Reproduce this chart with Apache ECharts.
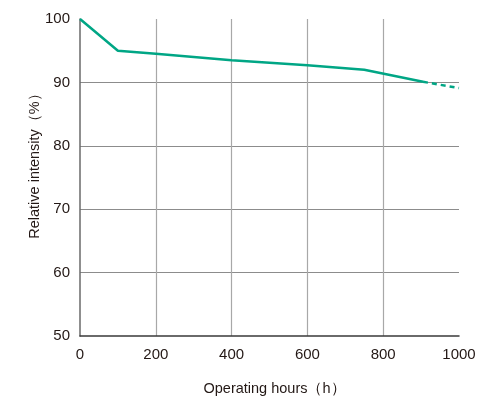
<!DOCTYPE html>
<html>
<head>
<meta charset="utf-8">
<script src="https://cdn.jsdelivr.net/npm/echarts@6/dist/echarts.min.js"></script>
<style>html,body{margin:0;padding:0;background:#fff;}#c{width:487px;height:401px;}</style>
</head>
<body>
<div id="c"></div>
<script>
var xTicks = [0, 200, 400, 600, 800, 1000];
var yTicks = [50, 60, 70, 80, 90, 100];
var measuredHours = [0, 100, 200, 400, 600, 750, 905];
var measuredIntensity = [100, 95, 94.5, 93.5, 92.7, 92.0, 90.1];
var projectedHours = [905, 1000];
var projectedIntensity = [90.1, 89.1];

function pairs(xs, ys) { return xs.map(function (x, i) { return [x, ys[i]]; }); }

var chart = echarts.init(document.getElementById('c'));
var txt = '#231815';
var ff = 'Liberation Sans, Arial, sans-serif';
chart.setOption({
  animation: false,
  grid: { left: 80, right: 28, top: 19, bottom: 64 },
  xAxis: {
    type: 'value', min: 0, max: 1000, interval: 200,
    name: 'Operating hours（h）', nameLocation: 'middle', nameGap: 45,
    nameTextStyle: { color: txt, fontSize: 14.5, fontFamily: ff, padding: [0, 0, 0, 10] },
    axisLine: { lineStyle: { color: '#3a3a3a', width: 1.5 } },
    axisTick: { show: false },
    axisLabel: { color: txt, fontSize: 15, margin: 11, fontFamily: ff,
      formatter: function (v) { return xTicks.indexOf(v) >= 0 ? String(v) : ''; } },
    splitLine: { show: true, showMinLine: false, showMaxLine: false, lineStyle: { color: '#a8a8a8', width: 1.2 } }
  },
  yAxis: {
    type: 'value', min: 50, max: 100, interval: 10,
    name: 'Relative intensity（%）', nameLocation: 'middle', nameGap: 38, nameMoveOverlap: false,
    nameTextStyle: { color: txt, fontSize: 14.5, fontFamily: ff, padding: [0, 0, 0, 30] },
    axisLine: { show: true, lineStyle: { color: '#6a6a6a', width: 1.5 } },
    axisTick: { show: false },
    axisLabel: { color: txt, fontSize: 15, margin: 10, fontFamily: ff,
      formatter: function (v) { return yTicks.indexOf(v) >= 0 ? String(v) : ''; } },
    splitLine: { show: true, showMinLine: false, showMaxLine: false, lineStyle: { color: '#8c8c8c', width: 1.2 } }
  },
  series: [
    { type: 'line', data: pairs(measuredHours, measuredIntensity), showSymbol: false, symbol: 'none',
      lineStyle: { color: '#00a685', width: 2.5 }, z: 5 },
    { type: 'line', data: pairs(projectedHours, projectedIntensity), showSymbol: false, symbol: 'none',
      lineStyle: { color: '#00a685', width: 2.5, type: [5, 4] }, z: 5 }
  ]
});
</script>
</body>
</html>
